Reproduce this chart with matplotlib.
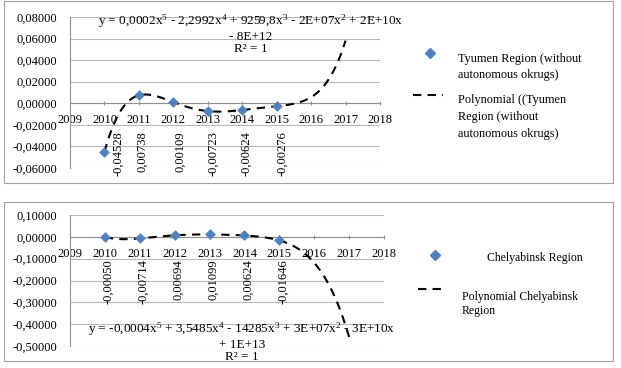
import numpy as np
import matplotlib.pyplot as plt
from matplotlib.lines import Line2D
from matplotlib.patches import Rectangle
from matplotlib.ticker import FuncFormatter, MultipleLocator

plt.rcParams['font.family'] = ['Liberation Serif', 'DejaVu Serif']
plt.rcParams['mathtext.fontset'] = 'custom'
plt.rcParams['mathtext.rm'] = 'Liberation Serif'
plt.rcParams['mathtext.default'] = 'regular'

years = [2010, 2011, 2012, 2013, 2014, 2015]
tyumen = [-0.04528, 0.00738, 0.00109, -0.00723, -0.00624, -0.00276]
chelyabinsk = [-0.00050, -0.00714, 0.00694, 0.01099, 0.00624, -0.01646]

tyumen_eq = ('y = 0,0002x$^5$ - 2,2992x$^4$ + 9259,8x$^3$ - 2E+07x$^2$ + 2E+10x\n'
             '- 8E+12\nR² = 1')
chel_eq = ('y = -0,0004x$^5$ + 3,5485x$^4$ - 14285x$^3$ + 3E+07x$^2$ - 3E+10x\n'
           '+ 1E+13\nR² = 1')

FS = 9
BLUE = '#4F81BD'
GRID = '#B8B8B8'


def comma(v, _=None):
    return f'{v:.5f}'.replace('.', ',')


def panel(ax, vals, ylim, ystep, label_top, label_dx):
    t = np.array(years) - 2010
    coef = np.polyfit(t, vals, 5)
    xs = np.linspace(2010, 2017, 300)
    ax.plot(xs, np.polyval(coef, xs - 2010), color='black', lw=1.5,
            ls=(0, (4, 3)), zorder=3)
    ax.scatter(years, vals, marker='D', s=30, color=BLUE, zorder=4,
               linewidths=0)
    for i, (x, v) in enumerate(zip(years, vals)):
        ax.text(x + label_dx[i], label_top, comma(v), rotation=90,
                ha='center', va='top', fontsize=FS,
                transform=ax.get_xaxis_transform())
    ax.set_xlim(2009, 2018)
    ax.set_ylim(*ylim)
    ax.yaxis.set_major_locator(MultipleLocator(ystep))
    ax.yaxis.set_major_formatter(FuncFormatter(comma))
    ax.xaxis.set_major_locator(MultipleLocator(1))
    ax.grid(axis='y', color=GRID, lw=0.8)
    ax.set_axisbelow(True)
    for s in ['top', 'right']:
        ax.spines[s].set_visible(False)
    ax.spines['bottom'].set_position(('data', 0))
    ax.spines['bottom'].set_color('#909090')
    ax.spines['left'].set_color('#909090')
    ax.tick_params(axis='y', length=0, pad=9, labelsize=FS)
    ax.tick_params(axis='x', length=3, width=0.8, color='#909090',
                   direction='inout', pad=6.5, labelsize=FS)


fig = plt.figure(figsize=(6.21, 3.68), dpi=100)

ax1 = fig.add_axes([70 / 621, 1 - 168 / 368, 310 / 621, 151 / 368])
panel(ax1, tyumen, (-0.06, 0.08), 0.02, 0.245,
      [0.4, 0.1, 0.2, 0.15, 0.12, 0.15])
ax2 = fig.add_axes([70 / 621, 1 - 346 / 368, 314 / 621, 131 / 368])
panel(ax2, chelyabinsk, (-0.5, 0.1), 0.1, 0.66,
      [0.1, 0.1, 0.1, 0.1, 0.12, 0.1])

# chart borders
for y0, y1 in [(1, 183), (202, 361)]:
    fig.add_artist(Rectangle((4 / 621, 1 - y1 / 368), 609 / 621, (y1 - y0) / 368,
                             transform=fig.transFigure, fill=False,
                             edgecolor='#A0A0A0', lw=0.8))

fig.text(251 / 621, 1 - 12 / 368, tyumen_eq, ha='center', va='top',
         fontsize=9.5, linespacing=1.1, multialignment='center')
fig.text(242 / 621, 1 - 320 / 368, chel_eq, ha='center', va='top',
         fontsize=9.5, linespacing=1.1, multialignment='center')


def fx(px):
    return px / 621


def fy(py):
    return 1 - py / 368


# legends
fig.add_artist(Line2D([fx(430)], [fy(53)], marker='D', ms=5.5, color=BLUE, lw=0))
fig.text(fx(458), fy(67), 'Tyumen Region (without\nautonomous okrugs)',
         va='center', fontsize=8.8, linespacing=1.55)
fig.add_artist(Line2D([fx(413), fx(443)], [fy(95), fy(95)], color='black',
                      lw=1.5, ls=(0, (4, 3))))
fig.text(fx(458), fy(117), 'Polynomial ((Tyumen\nRegion (without\nautonomous okrugs)',
         va='center', fontsize=8.8, linespacing=1.55)

fig.add_artist(Line2D([fx(435)], [fy(255)], marker='D', ms=5.5, color=BLUE, lw=0))
fig.text(fx(487), fy(258), 'Chelyabinsk Region', va='center', fontsize=8.5)
fig.add_artist(Line2D([fx(418), fx(447)], [fy(289), fy(289)], color='black',
                      lw=1.5, ls=(0, (4, 3))))
fig.text(fx(462), fy(304), 'Polynomial Chelyabinsk\nRegion', va='center',
         fontsize=8.5, linespacing=1.3)

fig.savefig('out.png', dpi=100)
